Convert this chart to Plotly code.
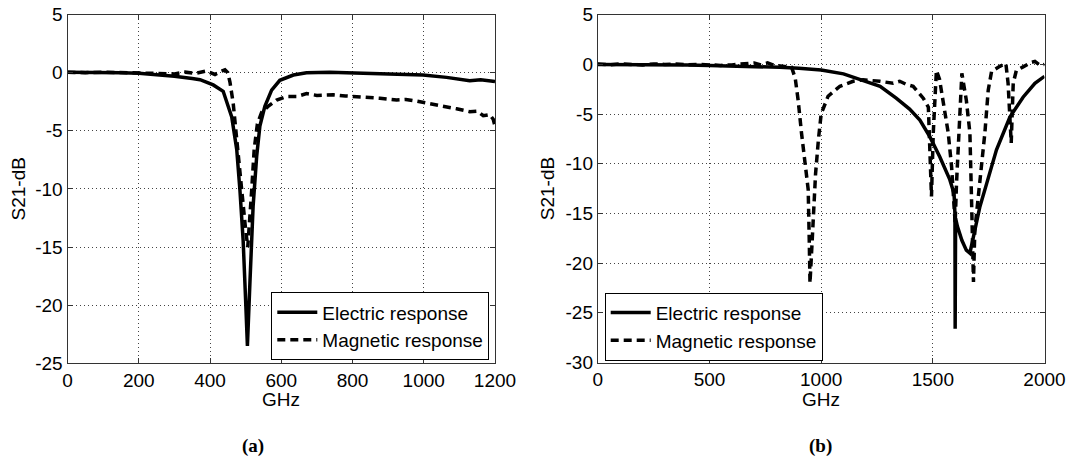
import plotly.graph_objects as go

# ---------------- data ----------------
a_elec_x = [0, 50, 100, 150, 200, 250, 300, 350, 372, 409, 437, 461, 475, 484, 493, 500, 505,
            512, 521, 531, 540, 554, 573, 596, 634, 671, 736, 830, 877, 924, 998, 1064, 1129,
            1160, 1195, 1200]
a_elec_y = [0.05, 0.05, 0.0, 0.0, -0.05, -0.15, -0.3, -0.5, -0.6, -1.05, -1.6, -3.8, -6.6,
            -10.1, -14.4, -19.6, -23.5, -18.1, -11.5, -7.2, -4.6, -2.9, -1.5, -0.65, -0.2, 0.0,
            0.03, -0.05, -0.1, -0.1, -0.2, -0.4, -0.7, -0.6, -0.75, -0.75]

a_mag_x = [0, 50, 100, 150, 200, 250, 300, 330, 360, 390, 414, 430, 442, 450, 456, 465, 473,
           482, 493, 500, 506, 511, 517, 524, 533, 545, 563, 587, 615, 643, 671, 700, 746, 780,
           812, 848, 877, 924, 950, 980, 1017, 1064, 1092, 1129, 1150, 1167, 1185, 1195, 1200]
a_mag_y = [0.05, 0.0, 0.05, 0.0, 0.0, -0.05, -0.1, 0.05, -0.05, 0.15, -0.15, 0.1, 0.25, 0.0,
           -0.8, -2.6, -5.2, -8.1, -11.0, -13.5, -15.0, -13.0, -10.1, -6.6, -4.4, -3.4, -2.9,
           -2.35, -2.05, -2.05, -1.8, -1.95, -1.9, -2.0, -2.05, -2.1, -2.2, -2.35, -2.3, -2.45,
           -2.65, -2.9, -3.1, -3.35, -3.3, -3.7, -3.6, -4.0, -4.6]

b_elec_x = [0, 100, 200, 300, 400, 500, 600, 700, 815, 900, 1000, 1100, 1175, 1264, 1336, 1396,
            1442, 1487, 1531, 1576, 1595, 1599, 1600, 1602, 1610, 1630, 1650, 1666, 1688, 1711,
            1741, 1785, 1845, 1904, 1957, 2000]
b_elec_y = [0.0, 0.0, 0.0, 0.0, -0.05, -0.1, -0.15, -0.2, -0.3, -0.4, -0.56, -0.95, -1.5, -2.2,
            -3.4, -4.5, -5.6, -7.3, -9.3, -11.6, -13.0, -15.0, -26.6, -15.5, -16.3, -17.7, -18.7,
            -19.0, -16.7, -14.3, -12.0, -8.6, -5.3, -3.3, -1.9, -1.2]

b_mag_x = [0, 50, 100, 150, 200, 250, 300, 350, 400, 450, 500, 550, 600, 650, 700, 730, 760,
           790, 820, 850, 868, 884, 897, 912, 928, 942, 947, 950, 957, 966, 975, 988, 1000, 1031,
           1084, 1143, 1188, 1263, 1322, 1352, 1380, 1412, 1440, 1457, 1480, 1487, 1494, 1502,
           1510, 1516, 1530, 1546, 1569, 1584, 1591, 1600, 1606, 1613, 1622, 1630, 1650, 1666,
           1673, 1682, 1688, 1700, 1711, 1733, 1748, 1763, 1800, 1827, 1837, 1845, 1851, 1860,
           1874, 1900, 1919, 1940, 1957, 1980, 2000]
b_mag_y = [0.05, -0.05, 0.05, 0.0, -0.05, 0.05, 0.0, 0.05, -0.05, 0.0, -0.05, -0.1, -0.05, 0.05,
           0.15, -0.05, 0.15, -0.1, -0.15, -0.2, -0.3, -1.4, -3.6, -6.9, -9.9, -12.6, -18.0,
           -22.0, -19.0, -14.0, -11.0, -7.5, -5.0, -3.2, -2.2, -1.7, -1.55, -1.7, -1.9, -1.7,
           -2.0, -2.2, -2.9, -3.4, -4.3, -8.0, -13.3, -6.9, -2.5, -0.6, -1.5, -3.6, -6.9, -10.3,
           -12.3, -16.0, -12.0, -8.6, -3.5, -0.9, -3.6, -6.9, -13.3, -21.9, -16.7, -14.0, -12.0,
           -6.9, -2.6, -0.7, -0.2, 0.1, -1.9, -5.3, -7.9, -1.9, -0.6, -0.3, -0.06, 0.2, 0.3,
           -0.1, 0.0]

a_xticks = [0, 200, 400, 600, 800, 1000, 1200]
a_yticks = [5, 0, -5, -10, -15, -20, -25]
b_xticks = [0, 500, 1000, 1500, 2000]
b_yticks = [5, 0, -5, -10, -15, -20, -25, -30]

series_names = ["Electric response", "Magnetic response"]
x_title = "GHz"
y_title = "S21-dB"
panel_labels = ["(a)", "(b)"]

# ---------------- layout helpers ----------------
W, H = 1070, 463
def px(x):
    return x / W
def py(y):
    return 1 - y / H

FONT = "Liberation Sans, Arial, Helvetica, sans-serif"
FS = 19
LW = 3.5
DASH = "8px,5px"

fig = go.Figure()

fig.add_trace(go.Scatter(x=a_elec_x, y=a_elec_y, mode="lines", name=series_names[0],
                         line=dict(color="black", width=LW), xaxis="x", yaxis="y",
                         legend="legend"))
fig.add_trace(go.Scatter(x=a_mag_x, y=a_mag_y, mode="lines", name=series_names[1],
                         line=dict(color="black", width=LW, dash=DASH), xaxis="x", yaxis="y",
                         legend="legend"))
fig.add_trace(go.Scatter(x=b_elec_x, y=b_elec_y, mode="lines", name=series_names[0],
                         line=dict(color="black", width=LW), xaxis="x2", yaxis="y2",
                         legend="legend2"))
fig.add_trace(go.Scatter(x=b_mag_x, y=b_mag_y, mode="lines", name=series_names[1],
                         line=dict(color="black", width=LW, dash=DASH), xaxis="x2", yaxis="y2",
                         legend="legend2"))

def axis_common():
    return dict(
        showline=True, linecolor="#333", linewidth=1, mirror="ticks",
        ticks="inside", ticklen=5, tickcolor="#333", tickwidth=1,
        showgrid=True, gridcolor="#444", gridwidth=1, griddash="1px,3px",
        zeroline=False, tickfont=dict(family=FONT, size=FS, color="black"),
        automargin=False, fixedrange=True,
    )

def labels(vals):
    # plain hyphen-minus like the original (plotly would use U+2212)
    return [str(v) for v in vals]

a_left, a_right = 67.5, 495.0
b_left, b_right = 597.8, 1044.5
top_a, bot_a = 14.6, 363.3
top_b, bot_b = 14.7, 362.5

fig.update_layout(
    width=W, height=H,
    margin=dict(l=0, r=0, t=0, b=0),
    paper_bgcolor="white", plot_bgcolor="white",
    font=dict(family=FONT, size=FS, color="black"),
    xaxis=dict(domain=[px(a_left), px(a_right)], range=[0, 1200], tickvals=a_xticks,
               ticktext=labels(a_xticks), anchor="y", **axis_common()),
    yaxis=dict(domain=[py(bot_a), py(top_a)], range=[-25, 5], tickvals=a_yticks,
               ticktext=labels(a_yticks), anchor="x", **axis_common()),
    xaxis2=dict(domain=[px(b_left), px(b_right)], range=[0, 2000], tickvals=b_xticks,
                ticktext=labels(b_xticks), anchor="y2", **axis_common()),
    yaxis2=dict(domain=[py(bot_b), py(top_b)], range=[-30, 5], tickvals=b_yticks,
                ticktext=labels(b_yticks), anchor="x2", **axis_common()),
    legend=dict(x=px(271.3), y=py(292.3), xanchor="left", yanchor="top",
                bordercolor="black", borderwidth=1, bgcolor="white",
                font=dict(family=FONT, size=FS, color="black"),
                itemwidth=40, tracegroupgap=0),
    legend2=dict(x=px(604.7), y=py(292.7), xanchor="left", yanchor="top",
                 bordercolor="black", borderwidth=1, bgcolor="white",
                 font=dict(family=FONT, size=FS, color="black"),
                 itemwidth=40, tracegroupgap=0),
    showlegend=True,
)

ann = []
for cx in [(a_left + a_right) / 2, (b_left + b_right) / 2]:
    ann.append(dict(x=px(cx), y=py(399), xref="paper", yref="paper", text=x_title,
                    showarrow=False, xanchor="center", yanchor="middle",
                    font=dict(family=FONT, size=FS, color="black")))
for cx in [17.5, 547.2]:
    ann.append(dict(x=px(cx), y=py(189), xref="paper", yref="paper", text=y_title,
                    showarrow=False, textangle=-90, xanchor="center", yanchor="middle",
                    font=dict(family=FONT, size=FS, color="black")))
for cx, t in [(253, panel_labels[0]), (820, panel_labels[1])]:
    ann.append(dict(x=px(cx), y=py(446), xref="paper", yref="paper", text="<b>" + t + "</b>",
                    showarrow=False, xanchor="center", yanchor="middle",
                    font=dict(family="Liberation Serif, Times New Roman, serif", size=19,
                              color="black")))
fig.update_layout(annotations=ann)

# remove the browser's default 8px body margin so the figure sits at the page origin
fig.write_html("out.html", config={"displayModeBar": False},
               post_script="document.body.style.margin='0px';")
